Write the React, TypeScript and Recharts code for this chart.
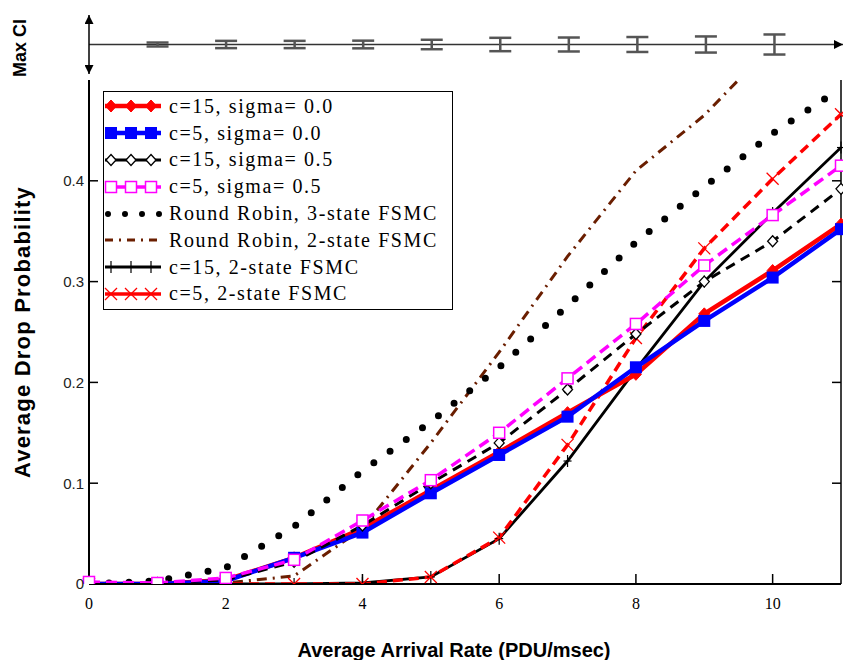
import React from "react";
import {
  LineChart,
  Line,
  XAxis,
  YAxis,
  Legend,
  ComposedChart,
  Scatter,
  ErrorBar,
  ReferenceLine,
} from "recharts";

// arrival rate (PDU/msec)
const arrivalRate = [0, 1, 2, 3, 4, 5, 6, 7, 8, 9, 10, 11];

// average drop probability per scheme
const c15Sigma00 = [0, 0, 0.004, 0.026, 0.055, 0.093, 0.131, 0.17, 0.208, 0.268, 0.311, 0.357];
const c5Sigma00 = [0, 0, 0.003, 0.026, 0.051, 0.09, 0.128, 0.166, 0.215, 0.261, 0.304, 0.352];
const c15Sigma05 = [0, 0.001, 0.004, 0.022, 0.058, 0.1, 0.14, 0.193, 0.248, 0.3, 0.34, 0.392];
const c5Sigma05 = [0.002, 0.001, 0.006, 0.024, 0.063, 0.103, 0.15, 0.204, 0.258, 0.316, 0.366, 0.415];
const rr3State = [0, 0.003, 0.016, 0.057, 0.112, 0.161, 0.215, 0.276, 0.339, 0.394, 0.447, 0.492];
const rr2State = [0, 0, 0.001, 0.008, 0.055, 0.14, 0.23, 0.325, 0.41, 0.465, 0.535, 0.58];
const c15TwoState = [0, 0, 0, 0, 0.001, 0.007, 0.045, 0.122, 0.213, 0.3, 0.368, 0.433];
const c5TwoState = [0, 0, 0, 0, 0, 0.007, 0.046, 0.138, 0.244, 0.333, 0.402, 0.466];

// max confidence interval (half width) per arrival rate
const ciRate = [1, 2, 3, 4, 5, 6, 7, 8, 9, 10];
const maxCI = [0.002, 0.0037, 0.0037, 0.0039, 0.0048, 0.0068, 0.0071, 0.0076, 0.0082, 0.0102];

const xTicks = [0, 2, 4, 6, 8, 10];
const yTicks = [0, 0.1, 0.2, 0.3, 0.4];

const data = arrivalRate.map((x, i) => ({
  x,
  c15s00: c15Sigma00[i],
  c5s00: c5Sigma00[i],
  c15s05: c15Sigma05[i],
  c5s05: c5Sigma05[i],
  rr3: rr3State[i],
  rr2: rr2State[i],
  c15fsmc: c15TwoState[i],
  c5fsmc: c5TwoState[i],
}));

const ciData = ciRate.map((x, i) => ({ x, y: 0, ci: maxCI[i] }));

type MarkerKind = "diamond" | "square" | "openDiamond" | "openSquare" | "plus" | "cross" | "none";

function drawMarker(kind: MarkerKind, color: string, cx: number, cy: number, key?: string) {
  switch (kind) {
    case "diamond":
      return (
        <polygon key={key} points={`${cx},${cy - 6} ${cx + 5.5},${cy} ${cx},${cy + 6} ${cx - 5.5},${cy}`} fill={color} stroke={color} />
      );
    case "square":
      return <rect key={key} x={cx - 6} y={cy - 6} width={12} height={12} fill={color} />;
    case "openDiamond":
      return (
        <polygon key={key} points={`${cx},${cy - 5.5} ${cx + 5},${cy} ${cx},${cy + 5.5} ${cx - 5},${cy}`} fill="#fff" stroke={color} strokeWidth={1.3} />
      );
    case "openSquare":
      return <rect key={key} x={cx - 5.5} y={cy - 5.5} width={11} height={11} fill="#fff" stroke={color} strokeWidth={1.5} />;
    case "plus":
      return (
        <g key={key} stroke={color} strokeWidth={1.2}>
          <line x1={cx} y1={cy - 6} x2={cx} y2={cy + 6} />
          <line x1={cx - 4} y1={cy} x2={cx + 4} y2={cy} />
        </g>
      );
    case "cross":
      return (
        <g key={key} stroke={color} strokeWidth={1.3}>
          <line x1={cx - 6} y1={cy - 6} x2={cx + 6} y2={cy + 6} />
          <line x1={cx - 6} y1={cy + 6} x2={cx + 6} y2={cy - 6} />
        </g>
      );
    default:
      return <g key={key} />;
  }
}

type SeriesDef = {
  key: string;
  name: string;
  color: string;
  width: number;
  dash?: string;
  cap?: "round" | "butt";
  marker: MarkerKind;
};

// legend order
const series: SeriesDef[] = [
  { key: "c15s00", name: "c=15, sigma= 0.0", color: "#ff0000", width: 4.5, marker: "diamond" },
  { key: "c5s00", name: "c=5, sigma= 0.0", color: "#0000ff", width: 4.5, marker: "square" },
  { key: "c15s05", name: "c=15, sigma= 0.5", color: "#000000", width: 3, dash: "10 7", marker: "openDiamond" },
  { key: "c5s05", name: "c=5, sigma= 0.5", color: "#ff00ff", width: 3.5, dash: "11 6", marker: "openSquare" },
  { key: "rr3", name: "Round Robin, 3-state FSMC", color: "#000000", width: 7, dash: "0 20", cap: "round", marker: "none" },
  { key: "rr2", name: "Round Robin, 2-state FSMC", color: "#6a1e00", width: 3, dash: "10 6 2 6", marker: "none" },
  { key: "c15fsmc", name: "c=15, 2-state FSMC", color: "#000000", width: 2.8, marker: "plus" },
  { key: "c5fsmc", name: "c=5, 2-state FSMC", color: "#ff0000", width: 3.5, dash: "10 6", marker: "cross" },
];

// drawing order (last on top)
const drawOrder = ["rr2", "rr3", "c15fsmc", "c5fsmc", "c15s00", "c5s00", "c15s05", "c5s05"];

const byKey = (k: string) => series.find((s) => s.key === k) as SeriesDef;

function LegendBox() {
  return (
    <div style={{ border: "1.5px solid #000", background: "#fff", width: 348, paddingTop: 1, paddingBottom: 2 }}>
      {series.map((s) => (
        <div key={s.key} style={{ display: "flex", alignItems: "center", height: 26.8 }}>
          <svg width={62} height={20} style={{ display: "block" }}>
            <line
              x1={s.cap === "round" ? 4 : 1}
              y1={10}
              x2={57}
              y2={10}
              stroke={s.color}
              strokeWidth={s.key === "rr3" ? 6 : s.width}
              strokeDasharray={s.key === "rr3" ? "0 17" : s.key === "rr2" ? "8 6 2 6" : undefined}
              strokeLinecap={s.cap ?? "butt"}
            />
            {s.marker !== "none" && [7, 27, 47].map((mx) => drawMarker(s.marker, s.color, mx, 10, `${s.key}-${mx}`))}
          </svg>
          <span
            style={{
              fontFamily: "'Liberation Serif', 'Times New Roman', serif",
              fontSize: 20,
              letterSpacing: 1.6,
              marginLeft: 3,
              whiteSpace: "nowrap",
              color: "#000",
            }}
          >
            {s.name}
          </span>
        </div>
      ))}
    </div>
  );
}

const sans = "'Liberation Sans', Arial, sans-serif";
const serif = "'Liberation Serif', 'Times New Roman', serif";

export default function App() {
  return (
    <div style={{ position: "absolute", left: 0, top: 0, width: 843, height: 660, background: "#fff" }}>
      <div style={{ position: "absolute", left: 0, top: 0 }}>
        <LineChart width={843} height={660} data={data} margin={{ top: 80, right: 0, bottom: 36, left: 0 }}>
          <XAxis
            xAxisId="bottom"
            dataKey="x"
            type="number"
            domain={[0, 11]}
            ticks={xTicks}
            height={40}
            tickSize={-10}
            tickMargin={24}
            axisLine={{ stroke: "#000", strokeWidth: 2 }}
            tickLine={{ stroke: "#000", strokeWidth: 1.5 }}
            tick={{ fontFamily: serif, fontSize: 16, fill: "#000" }}
            label={{
              value: "Average Arrival Rate (PDU/msec)",
              position: "bottom",
              offset: 19,
              dx: -11,
              style: { fontFamily: sans, fontSize: 20, fontWeight: "bold", fill: "#000" },
            }}
          />
          <XAxis
            xAxisId="top"
            orientation="top"
            dataKey="x"
            type="number"
            domain={[0, 11]}
            ticks={xTicks}
            height={0}
            tickSize={-10}
            tickFormatter={() => ""}
            axisLine={{ stroke: "#000", strokeWidth: 1.5 }}
            tickLine={{ stroke: "#000", strokeWidth: 1.5 }}
          />
          <YAxis
            yAxisId="left"
            type="number"
            domain={[0, 0.5]}
            allowDataOverflow
            ticks={yTicks}
            width={89}
            tickSize={-9}
            tickMargin={14}
            axisLine={{ stroke: "#000", strokeWidth: 2 }}
            tickLine={{ stroke: "#000", strokeWidth: 1.5 }}
            tick={{ fontFamily: sans, fontSize: 15, fill: "#222" }}
            label={{
              value: "Average Drop Probability",
              angle: -90,
              position: "insideLeft",
              offset: 22,
              style: { textAnchor: "middle", fontFamily: sans, fontSize: 22, fontWeight: "bold", letterSpacing: 1.2, fill: "#000" },
            }}
          />
          <YAxis
            yAxisId="right"
            orientation="right"
            type="number"
            domain={[0, 0.5]}
            allowDataOverflow
            ticks={yTicks}
            width={2}
            tickSize={-9}
            tickFormatter={() => ""}
            axisLine={{ stroke: "#000", strokeWidth: 1.5 }}
            tickLine={{ stroke: "#000", strokeWidth: 1.5 }}
          />
          <Legend layout="vertical" verticalAlign="middle" align="center" content={() => <LegendBox />} wrapperStyle={{ left: 103, top: 91, width: 352 }} />
          {drawOrder.map((k) => {
            const s = byKey(k);
            return (
              <Line
                key={s.key}
                xAxisId="bottom"
                yAxisId="left"
                type="linear"
                dataKey={s.key}
                name={s.name}
                stroke={s.color}
                strokeWidth={s.width}
                strokeDasharray={s.dash}
                strokeLinecap={s.cap ?? "butt"}
                isAnimationActive={false}
                activeDot={false}
                dot={
                  s.marker === "none"
                    ? false
                    : (p: any) => drawMarker(s.marker, s.color, p.cx, p.cy, `${s.key}-dot-${p.index}`)
                }
              />
            );
          })}
        </LineChart>
      </div>

      {/* Max CI strip */}
      <div style={{ position: "absolute", left: 0, top: 0 }}>
        <ComposedChart width={843} height={80} data={ciData} margin={{ top: 15, right: 0, bottom: 6, left: 89 }}>
          <defs>
            <marker id="ciArrow" viewBox="0 0 10 10" refX="10" refY="5" markerWidth="9" markerHeight="9" markerUnits="userSpaceOnUse" orient="auto-start-reverse">
              <path d="M0,0 L10,5 L0,10 z" fill="#000" />
            </marker>
          </defs>
          <XAxis dataKey="x" type="number" domain={[0, 11]} hide />
          <YAxis type="number" domain={[-0.03, 0.03]} allowDataOverflow hide />
          <ReferenceLine y={0} stroke="#333" strokeWidth={1.5} markerEnd="url(#ciArrow)" />
          <ReferenceLine x={0} stroke="#000" strokeWidth={1.5} markerStart="url(#ciArrow)" markerEnd="url(#ciArrow)" />
          <Scatter dataKey="y" isAnimationActive={false} shape={() => <g />}>
            <ErrorBar dataKey="ci" direction="y" width={11} stroke="#555" strokeWidth={2.5} />
          </Scatter>
        </ComposedChart>
      </div>
      <div
        style={{
          position: "absolute",
          left: 20,
          top: 48,
          transform: "translate(-50%, -50%) rotate(-90deg)",
          fontFamily: sans,
          fontSize: 18,
          fontWeight: "bold",
          whiteSpace: "nowrap",
          color: "#000",
        }}
      >
        Max CI
      </div>
    </div>
  );
}
